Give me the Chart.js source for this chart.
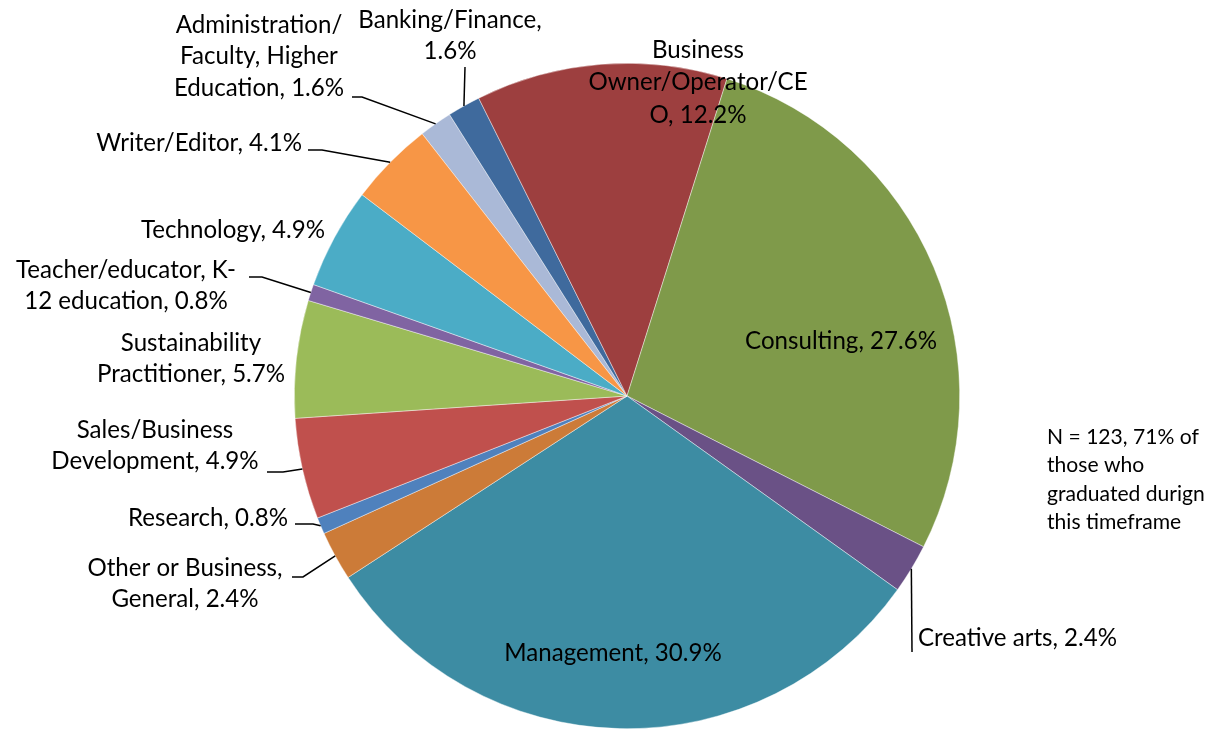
<!DOCTYPE html>
<html>
<head>
<meta charset="utf-8">
<script src="https://cdn.jsdelivr.net/npm/chart.js@4.4.1/dist/chart.umd.min.js"></script>
<style>
  html, body { margin: 0; padding: 0; background: #fff; }
  #wrap { position: relative; width: 1223px; height: 730px; }
</style>
</head>
<body>
<div id="wrap"><canvas id="pie" width="1223" height="730"></canvas></div>
<script>
// Data (clockwise in sheet order)
const categories = [
    'Administration/ Faculty, Higher Education',
    'Banking/Finance',
    'Business Owner/Operator/CEO',
    'Consulting',
    'Creative arts',
    'Management',
    'Other or Business, General',
    'Research',
    'Sales/Business Development',
    'Sustainability Practitioner',
    'Teacher/educator, K-12 education',
    'Technology',
    'Writer/Editor'
];
const percents = [1.6, 1.6, 12.2, 27.6, 2.4, 30.9, 2.4, 0.8, 4.9, 5.7, 0.8, 4.9, 4.1];
const noteLines = ['N = 123, 71% of', 'those who', 'graduated durign', 'this timeframe'];

const colors = [
    '#AAB9D7', '#3F6A9D', '#9D3F3F', '#7F9A4A', '#6A5186', '#3D8CA3', '#CC7B38',
    '#4F81BD', '#C0504D', '#9BBB59', '#8064A2', '#4BACC6', '#F79646'
];

// label layout, offsets from pie centre; breaks = char index where a line wraps
const layout = [
    { dx: -368, dy: -371, breaks: [16, 32], leader: [[-265, -299], [-275, -299]] },
    { dx: -177, dy: -376, breaks: [17], leader: [[-162, -329]] },
    { dx: 71, dy: -346, breaks: [9, 26], lh: 32.5 },
    { dx: 214, dy: -55 },
    { dx: 291, dy: 242, align: 'left', leader: [[285, 256]] },
    { dx: -14, dy: 257 },
    { dx: -442, dy: 172, breaks: [19], leader: [[-324, 181], [-335, 181]] },
    { dx: -339, dy: 122, align: 'right', leader: [[-314, 128], [-332, 128]] },
    { dx: -472, dy: 34, breaks: [15], leader: [[-344, 76], [-360, 76]] },
    { dx: -436, dy: -53, breaks: [15] },
    { dx: -501, dy: -126, breaks: [20], leader: [[-365, -119], [-378, -119]] },
    { dx: -302, dy: -166, align: 'right' },
    { dx: -325, dy: -253, align: 'right', leader: [[-305, -246], [-319, -246]] }
];

const FACE = 'Lato, "Open Sans", sans-serif';

// size the font so a reference string spans the width it has in the picture
function fitSize(ctx, sample, width) {
    ctx.font = '100px ' + FACE;
    return 100 * width / ctx.measureText(sample).width;
}

function splitAt(text, breaks) {
    const out = [];
    let from = 0;
    breaks.forEach(b => { out.push(text.slice(from, b).trim()); from = b; });
    out.push(text.slice(from).trim());
    return out;
}

const labelPlugin = {
    id: 'sliceLabels',
    afterDatasetsDraw(chart) {
        const ctx = chart.ctx;
        const arcs = chart.getDatasetMeta(0).data;
        const cx = arcs[0].x, cy = arcs[0].y, r = arcs[0].outerRadius;
        ctx.save();
        const size = fitSize(ctx, 'Consulting, 27.6%', 192);
        ctx.font = size.toFixed(1) + 'px ' + FACE;
        ctx.fillStyle = '#000';
        ctx.strokeStyle = '#000';
        ctx.lineWidth = 1.5;
        ctx.textBaseline = 'middle';

        layout.forEach((L, i) => {
            const arc = arcs[i];
            if (L.leader) {
                const mid = (arc.startAngle + arc.endAngle) / 2;
                ctx.beginPath();
                ctx.moveTo(cx + Math.cos(mid) * r, cy + Math.sin(mid) * r);
                L.leader.forEach(p => ctx.lineTo(cx + p[0], cy + p[1]));
                ctx.stroke();
            }
            const text = categories[i] + ', ' + percents[i].toFixed(1) + '%';
            const lines = splitAt(text, L.breaks || []);
            ctx.textAlign = L.align || 'center';
            lines.forEach((s, k) => ctx.fillText(s, cx + L.dx, cy + L.dy + k * (L.lh || 31.5)));
        });

        // side note
        const noteSize = fitSize(ctx, noteLines[0], 152);
        ctx.font = noteSize.toFixed(1) + 'px ' + FACE;
        ctx.textAlign = 'left';
        noteLines.forEach((s, k) => ctx.fillText(s, 1047, 437 + k * 28.5));
        ctx.restore();
    }
};

new Chart(document.getElementById('pie'), {
    type: 'pie',
    data: {
        labels: categories,
        datasets: [{
            data: percents,
            backgroundColor: colors,
            borderColor: 'rgba(255,255,255,0.7)',
            borderWidth: 0.6
        }]
    },
    options: {
        responsive: false,
        animation: false,
        rotation: -38,
        layout: { padding: { top: 63, bottom: 1, left: 200, right: 169 } },
        plugins: {
            legend: { display: false },
            tooltip: { enabled: false }
        },
        events: []
    },
    plugins: [labelPlugin]
});
</script>
</body>
</html>
